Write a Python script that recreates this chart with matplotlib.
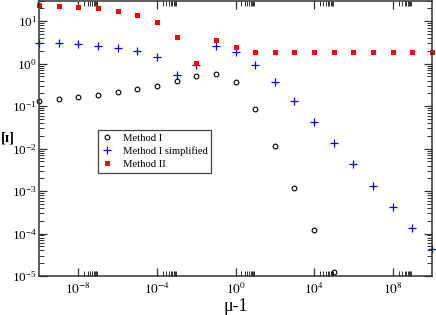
import matplotlib
matplotlib.use("Agg")
import matplotlib.pyplot as plt
from matplotlib.ticker import FixedLocator, LogLocator, NullFormatter

# x = mu - 1
mu1 = [1e-10, 1e-9, 1e-8, 1e-7, 1e-6, 1e-5, 1e-4, 1e-3, 1e-2, 1e-1, 1e0,
       1e1, 1e2, 1e3, 1e4, 1e5, 1e6, 1e7, 1e8, 1e9, 1e10]

method1 = [0.13, 0.148, 0.162, 0.184, 0.212, 0.255, 0.305, 0.393, 0.514, 0.582,
           0.364, 0.088, 0.0113, 0.00118, 1.2e-4, 1.22e-5]
method1_simpl = [3.06, 3.0, 2.84, 2.6, 2.33, 2.02, 1.44, 0.55, 0.93, 2.6,
                 1.91, 0.93, 0.378, 0.13, 0.0428, 0.0135, 0.00426, 0.00135,
                 4.3e-4, 1.36e-4, 4.3e-5]
method2 = [24.7, 23.4, 22.1, 20.3, 17.5, 14.1, 9.7, 4.3, 1.04, 3.6,
           2.5, 1.9, 1.84, 1.84, 1.84, 1.84, 1.84, 1.84, 1.84, 1.84, 1.84]

xmajor = [1e-8, 1e-4, 1e0, 1e4, 1e8]

plt.rcParams['font.family'] = ['Liberation Serif', 'DejaVu Serif']
plt.rcParams['mathtext.fontset'] = 'stix'

fig = plt.figure(figsize=(4.36, 3.15), dpi=100)
ax = fig.add_axes([39 / 436, 39 / 315, 393 / 436, 275 / 315])

ax.plot(mu1[:len(method1)], method1, ls='none', marker='o', mfc='none',
        mec='black', ms=3.4, mew=0.8, clip_on=False, label='Method I')
ax.plot(mu1, method1_simpl, ls='none', marker='+', color='#0000ff',
        ms=6, mew=0.9, clip_on=False, label='Method I simplified')
ax.plot(mu1, method2, ls='none', marker='s', color='#ff0000',
        ms=3.6, mew=0, clip_on=False, label='Method II')

ax.set_xscale('log')
ax.set_yscale('log')
ax.set_xlim(1e-10, 1e10)
ax.set_ylim(1e-5, 30)

ax.xaxis.set_major_locator(FixedLocator(xmajor))
ax.xaxis.set_minor_locator(FixedLocator([k * m for m in xmajor for k in range(2, 10)]))
ax.xaxis.set_minor_formatter(NullFormatter())
ax.set_xticklabels(['$10^{-8}$', '$10^{-4}$', '$10^{0}$', '$10^{4}$', '$10^{8}$'])

ax.yaxis.set_major_locator(LogLocator(base=10, numticks=20))
ax.yaxis.set_minor_locator(LogLocator(base=10, subs=range(2, 10), numticks=20))
ax.yaxis.set_minor_formatter(NullFormatter())
ax.xaxis.offsetText.set_visible(False)
ax.yaxis.offsetText.set_visible(False)

ax.tick_params(which='both', direction='in', top=True, right=True,
               color='#333333', labelsize=9.5)
ax.tick_params(which='major', length=6, width=0.9)
ax.tick_params(which='minor', length=3.5, width=0.7)
ax.tick_params(axis='x', pad=4)
ax.tick_params(axis='y', pad=1.5)
for s in ax.spines.values():
    s.set_color('#333333')
    s.set_linewidth(1.1)

ax.set_xlabel('μ-1', fontsize=13, labelpad=1)
ax.set_ylabel('[ɪ]', rotation=0, fontsize=10.5, fontweight='bold',
              va='center', ha='center')
ax.yaxis.set_label_coords(-31 / 393, 0.5)

leg = ax.legend(loc='upper left', bbox_to_anchor=(97.5 / 436, 1 - 130 / 315),
                bbox_transform=fig.transFigure, borderaxespad=0, fontsize=7.7,
                fancybox=False, framealpha=1, edgecolor='#444444',
                handlelength=1.0, handletextpad=1.0, labelspacing=0.3,
                borderpad=0.35, numpoints=1)
leg.get_frame().set_linewidth(0.9)

fig.savefig('out.png', dpi=100)
